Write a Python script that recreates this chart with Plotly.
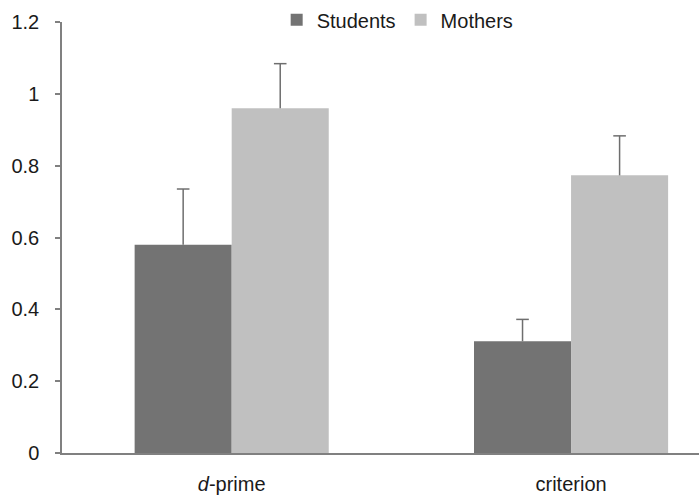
import plotly.graph_objects as go

# Signal-detection measures by group
categories = ["<i>d</i>-prime", "criterion"]
students = [0.58, 0.311]
students_err = [0.155, 0.061]
mothers = [0.96, 0.773]
mothers_err = [0.124, 0.11]

x_pos = list(range(len(categories)))
BARGAP = 0.428
half_offset = (1 - BARGAP) / 4  # centre of each bar within its group
ERR_COLOR = "#6e6e6e"

fig = go.Figure()
for name, vals, errs, color, sign in [
    ("Students", students, students_err, "#737373", -1),
    ("Mothers", mothers, mothers_err, "#c0c0c0", 1),
]:
    fig.add_trace(go.Bar(
        name=name, x=x_pos, y=vals,
        marker=dict(color=color, line=dict(width=0)),
        error_y=dict(type="data", symmetric=False, array=errs,
                     arrayminus=[0] * len(vals), color=ERR_COLOR,
                     thickness=1.5, width=0),
    ))
    # caps on the upper end of the error bars only
    fig.add_trace(go.Scatter(
        x=[p + sign * half_offset for p in x_pos],
        y=[v + e for v, e in zip(vals, errs)],
        mode="markers", showlegend=False, hoverinfo="skip",
        marker=dict(symbol="line-ew", size=9,
                    line=dict(color=ERR_COLOR, width=1.5)),
    ))

fig.update_layout(
    width=699, height=497,
    margin=dict(l=62, r=0, t=22, b=44),
    paper_bgcolor="white", plot_bgcolor="white",
    font=dict(family="Liberation Sans, Arial, sans-serif", size=20, color="#1a1a1a"),
    barmode="group", bargap=BARGAP, bargroupgap=0,
    showlegend=True,
    legend=dict(orientation="h", x=0.337, y=1.005, xanchor="left", yanchor="middle",
                bgcolor="rgba(0,0,0,0)", font=dict(size=20),
                itemwidth=30, tracegroupgap=0),
    xaxis=dict(
        range=[-0.5, 1.377], tickmode="array", tickvals=x_pos, ticktext=categories,
        showline=True, linecolor="#808080", linewidth=1.5, ticks="",
        showgrid=False, zeroline=False, fixedrange=True, ticklabelstandoff=12,
    ),
    yaxis=dict(
        range=[0, 1.2], tickmode="array", tickvals=[0, 0.2, 0.4, 0.6, 0.8, 1, 1.2],
        ticktext=["0", "0.2", "0.4", "0.6", "0.8", "1", "1.2"],
        showline=True, linecolor="#808080", linewidth=1.5,
        ticks="outside", ticklen=5, tickcolor="#808080", tickwidth=1.5,
        showgrid=False, zeroline=False, ticklabelstandoff=12,
    ),
)

fig.write_html("out.html")
